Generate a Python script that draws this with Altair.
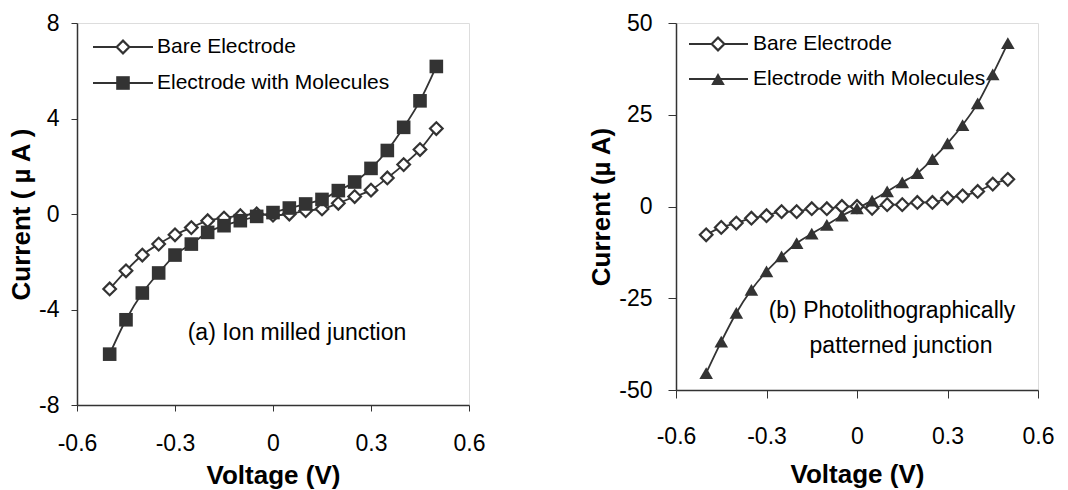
import altair as alt
import pandas as pd

FONT = "Liberation Sans"
DARK = "#333333"

voltage = [-0.5, -0.45, -0.4, -0.35, -0.3, -0.25, -0.2, -0.15, -0.1, -0.05, 0.0,
           0.05, 0.1, 0.15, 0.2, 0.25, 0.3, 0.35, 0.4, 0.45, 0.5]

# Panel (a) ion milled junction
a_bare = [-3.14, -2.38, -1.72, -1.26, -0.87, -0.57, -0.28, -0.17, -0.07, 0.0, -0.05,
          0.0, 0.14, 0.21, 0.45, 0.73, 1.0, 1.51, 2.07, 2.70, 3.58]
a_mol = [-5.87, -4.43, -3.31, -2.47, -1.72, -1.26, -0.77, -0.49, -0.28, -0.10, 0.06,
         0.25, 0.42, 0.61, 0.98, 1.34, 1.91, 2.66, 3.63, 4.74, 6.18]

# Panel (b) photolithographically patterned junction
b_bare = [-7.7, -5.7, -4.5, -3.2, -2.5, -1.4, -1.4, -0.6, -0.6, 0.0, 0.0,
          -0.5, 0.5, 0.5, 1.1, 1.1, 2.3, 2.9, 4.1, 6.1, 7.4]
b_mol = [-45.4, -36.8, -29.0, -22.7, -17.7, -13.6, -10.0, -7.4, -5.0, -2.5, -0.5,
         1.6, 4.1, 6.6, 9.1, 12.9, 17.2, 22.2, 28.1, 36.0, 44.5]

x_ticks = [-0.6, -0.3, 0, 0.3, 0.6]
a_yticks = [-8, -4, 0, 4, 8]
b_yticks = [-50, -25, 0, 25, 50]
legend_labels = ["Bare Electrode", "Electrode with Molecules"]


def panel(bare, mol, yticks, ytitle, mol_shape, w, h, lab_pad_x, lab_pad_y, tick, ttl_pad_y,
          ttl_pad_x, leg, notes):
    df = pd.DataFrame({"V": voltage, "bare": bare, "mol": mol})
    x = alt.X("V:Q", scale=alt.Scale(domain=[x_ticks[0], x_ticks[-1]], nice=False),
              axis=alt.Axis(values=x_ticks, labelExpr="'' + datum.value", title="Voltage (V)",
                            grid=False, tickSize=tick, labelPadding=lab_pad_x,
                            titlePadding=ttl_pad_x,
                            labelFontSize=23, titleFontSize=26, titleFontWeight="bold",
                            labelFont=FONT, titleFont=FONT, domainColor=DARK, tickColor=DARK,
                            labelColor="black", titleColor="black", domainWidth=1.5,
                            labelFlush=False, labelOverlap=False))
    yax = alt.Axis(values=yticks, labelExpr="'' + datum.value", title=ytitle, grid=False,
                   tickSize=tick, labelPadding=lab_pad_y, titlePadding=ttl_pad_y,
                   labelFontSize=23, titleFontSize=26, titleFontWeight="bold",
                   labelFont=FONT, titleFont=FONT, domainColor=DARK, tickColor=DARK,
                   labelColor="black", titleColor="black", domainWidth=1.5,
                   labelFlush=False, labelOverlap=False)
    ysc = alt.Scale(domain=[yticks[0], yticks[-1]], nice=False)
    base = alt.Chart(df)
    l_bare = base.mark_line(color=DARK, strokeWidth=1.8, interpolate="monotone").encode(
        x=x, y=alt.Y("bare:Q", scale=ysc, axis=yax))
    l_mol = base.mark_line(color=DARK, strokeWidth=1.8, interpolate="monotone").encode(
        x="V:Q", y=alt.Y("mol:Q", scale=ysc))
    p_bare = base.mark_point(shape="diamond", size=160, filled=True, fill="white",
                             stroke=DARK, strokeWidth=2.2, opacity=1).encode(
        x="V:Q", y=alt.Y("bare:Q", scale=ysc))
    p_mol = base.mark_point(shape=mol_shape, size=185, filled=True, color=DARK,
                            opacity=1).encode(
        x="V:Q", y=alt.Y("mol:Q", scale=ysc))

    layers = [l_bare, l_mol, p_bare, p_mol]
    # in-plot legend
    (lx1, lx2, lmid, tx, ly1, ly2) = leg
    for i, ly in enumerate([ly1, ly2]):
        one = alt.Chart(pd.DataFrame({"label": [legend_labels[i]]}))
        layers.append(one.mark_rule(color=DARK, strokeWidth=1.8).encode(
            x=alt.value(lx1), x2=alt.value(lx2), y=alt.value(ly)))
        if i == 0:
            layers.append(one.mark_point(shape="diamond", size=160, filled=True, fill="white",
                                         stroke=DARK, strokeWidth=2.2, opacity=1).encode(
                x=alt.value(lmid), y=alt.value(ly)))
        else:
            layers.append(one.mark_point(shape=mol_shape, size=185, filled=True, color=DARK,
                                         opacity=1).encode(
                x=alt.value(lmid), y=alt.value(ly)))
        layers.append(one.mark_text(align="left", baseline="middle", font=FONT, fontSize=21,
                                    color="black").encode(
            x=alt.value(tx), y=alt.value(ly), text="label:N"))
    for (txt, nx, ny) in notes:
        layers.append(alt.Chart(pd.DataFrame({"t": [txt]})).mark_text(
            align="center", baseline="middle", font=FONT, fontSize=23, color="black").encode(
            x=alt.value(nx), y=alt.value(ny), text="t:N"))
    return alt.layer(*layers).properties(width=w, height=h)


left = panel(a_bare, a_mol, a_yticks, "Current ( µ A )", "square", 392, 382, 21, 12, 6, 4, 7,
             (16, 76, 46, 80, 24, 60),
             [("(a) Ion milled junction", 220, 310)])
right = panel(b_bare, b_mol, b_yticks, "Current (µ A)", "triangle-up", 362, 367, 27, 16, 8, 4, 13,
              (13, 72, 42, 77, 21, 56),
              [("(b) Photolithographically", 216, 288), ("patterned junction", 225, 323)])

chart = alt.hconcat(left, right, spacing=207, bounds="flush").configure_view(
    stroke="#888888", strokeWidth=2
).configure(background="white", padding={"left": 8, "top": 11, "right": 0, "bottom": 0})

chart.save("out.html", embed_options={"renderer": "svg", "actions": False})
